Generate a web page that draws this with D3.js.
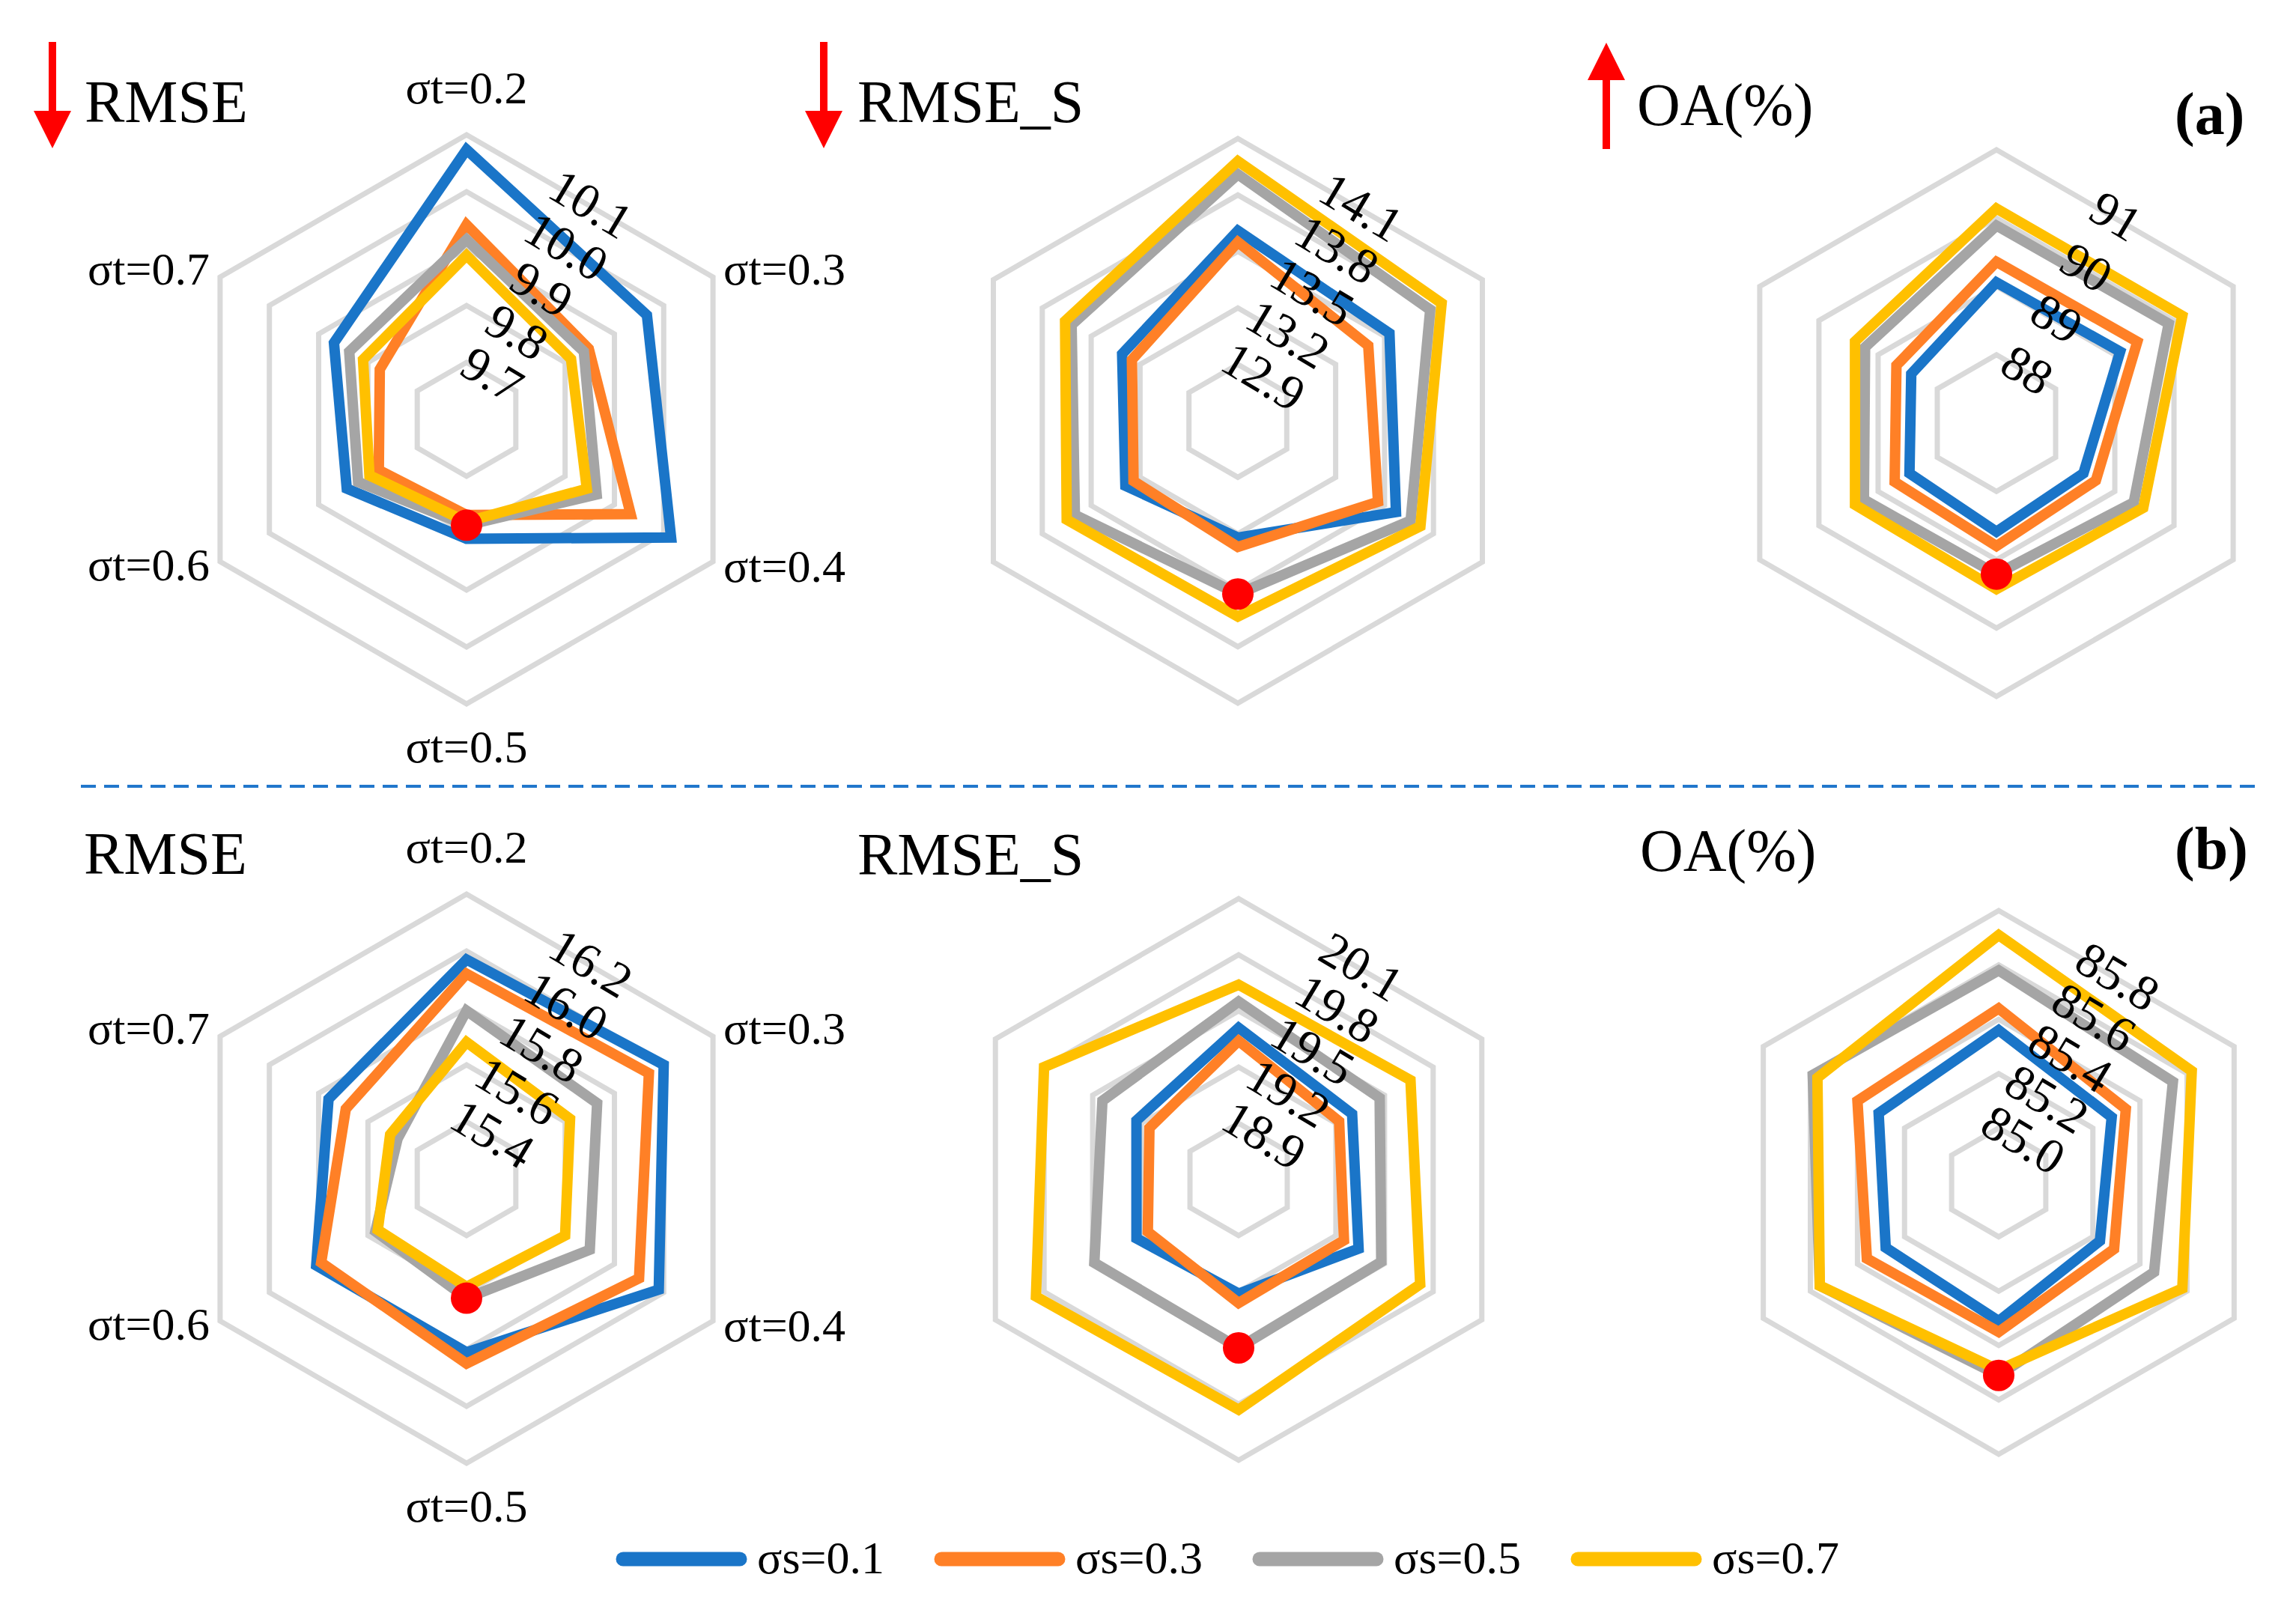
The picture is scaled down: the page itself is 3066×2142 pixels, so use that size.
<!DOCTYPE html>
<html>
<head>
<meta charset="utf-8">
<script src="https://cdn.jsdelivr.net/npm/d3@7"></script>
<style>
  body { margin: 0; background: #fff; }
  text { font-family: "Liberation Serif", "DejaVu Serif", serif; fill: #000; }
</style>
</head>
<body>
<div id="chart"></div>
<script>
// categories
const axisLabels = ['σt=0.2', 'σt=0.3', 'σt=0.4', 'σt=0.5', 'σt=0.6', 'σt=0.7'];
const seriesLabels = ['σs=0.1', 'σs=0.3', 'σs=0.5', 'σs=0.7'];
const seriesColors = ['#1a75c8', '#ff8026', '#a5a5a5', '#ffc000'];

// (a) rows: σs=0.1, 0.3, 0.5, 0.7 ; columns follow axisLabels
const rmseA = [
  [10.074, 9.966, 10.015, 9.810, 9.843, 9.869],
  [9.942, 9.848, 9.933, 9.768, 9.778, 9.776],
  [9.916, 9.838, 9.864, 9.786, 9.820, 9.838],
  [9.888, 9.812, 9.844, 9.780, 9.797, 9.810]
];
const rmseATicks = [9.7, 9.8, 9.9, 10.0, 10.1];

const rmseSA = [
  [13.61, 13.53, 13.57, 13.22, 13.29, 13.31],
  [13.55, 13.40, 13.46, 13.27, 13.24, 13.25],
  [13.91, 13.78, 13.66, 13.52, 13.60, 13.62],
  [13.98, 13.85, 13.72, 13.64, 13.65, 13.66]
];
const rmseSATicks = [12.9, 13.2, 13.5, 13.8, 14.1];

const oaA = [
  [89.06, 89.09, 88.47, 88.59, 88.47, 88.44],
  [89.36, 89.38, 88.68, 88.80, 88.72, 88.69],
  [89.89, 89.91, 89.32, 89.21, 89.24, 89.22],
  [90.14, 90.14, 89.48, 89.43, 89.39, 89.39]
];
const oaATicks = [88, 89, 90, 91];

// (b)
const rmseB = [
  [15.97, 16.00, 15.98, 15.81, 15.81, 15.76],
  [15.92, 15.94, 15.90, 15.85, 15.79, 15.69],
  [15.79, 15.73, 15.70, 15.62, 15.57, 15.48],
  [15.68, 15.62, 15.60, 15.58, 15.56, 15.51]
];
const rmseBTicks = [15.4, 15.6, 15.8, 16.0, 16.2];

const rmseSB = [
  [19.41, 19.30, 19.34, 19.21, 19.23, 19.23],
  [19.34, 19.22, 19.25, 19.26, 19.16, 19.15],
  [19.55, 19.47, 19.48, 19.50, 19.49, 19.44],
  [19.64, 19.66, 19.72, 19.83, 19.85, 19.80]
];
const rmseSBTicks = [18.9, 19.2, 19.5, 19.8, 20.1];

const oaB = [
  [85.36, 85.28, 85.23, 85.31, 85.28, 85.31],
  [85.44, 85.34, 85.29, 85.35, 85.36, 85.40],
  [85.58, 85.54, 85.46, 85.51, 85.56, 85.59],
  [85.71, 85.62, 85.58, 85.49, 85.56, 85.57]
];
const oaBTicks = [85.0, 85.2, 85.4, 85.6, 85.8];

// highlighted point (σs=0.5, σt=0.5)
const bestSeries = 2, bestAxis = 3;

const W = 3066, H = 2142;
const svg = d3.select('#chart').append('svg')
    .attr('width', W).attr('height', H)
    .attr('viewBox', `0 0 ${W} ${H}`);

const panels = [
  {data: rmseA,  ticks: rmseATicks,  fmt: '.1f', cx: 623,  cy: 560,  R: 380, title: 'RMSE',   tx: 113,  ty: 163, arrow: 'down', ax: 70,   labels: true},
  {data: rmseSA, ticks: rmseSATicks, fmt: '.1f', cx: 1653, cy: 562,  R: 377, title: 'RMSE_S', tx: 1145, ty: 163, arrow: 'down', ax: 1100, labels: false},
  {data: oaA,    ticks: oaATicks,    fmt: '.0f', cx: 2666, cy: 565,  R: 365, title: 'OA(%)',  tx: 2186, ty: 167, arrow: 'up',   ax: 2145, labels: false},
  {data: rmseB,  ticks: rmseBTicks,  fmt: '.1f', cx: 623,  cy: 1574, R: 380, title: 'RMSE',   tx: 112,  ty: 1167, arrow: null, labels: true},
  {data: rmseSB, ticks: rmseSBTicks, fmt: '.1f', cx: 1654, cy: 1575, R: 375, title: 'RMSE_S', tx: 1145, ty: 1168, arrow: null, labels: false},
  {data: oaB,    ticks: oaBTicks,    fmt: '.1f', cx: 2669, cy: 1579, R: 363, title: 'OA(%)',  tx: 2190, ty: 1163, arrow: null, labels: false}
];

// axis label offsets from centre (x, baseline y, anchor)
const labelPos = [
  [0, -422, 'middle'], [343, -180, 'start'], [343, 217, 'start'],
  [0, 458, 'middle'], [-343, 215, 'end'], [-343, -180, 'end']
];

const angle = i => i * Math.PI / 3;

panels.forEach(p => {
  const step = p.ticks[1] - p.ticks[0];
  const r = d3.scaleLinear()
      .domain([p.ticks[0] - step, p.ticks[p.ticks.length - 1]])
      .range([0, p.R]);

  const g = svg.append('g').attr('transform', `translate(${p.cx},${p.cy})`);

  const line = d3.lineRadial()
      .angle((d, i) => angle(i))
      .radius(d => r(d))
      .curve(d3.curveLinearClosed);

  // grid rings
  g.selectAll('.ring').data(p.ticks).enter().append('path')
      .attr('class', 'ring')
      .attr('d', t => line(axisLabels.map(() => t)))
      .attr('fill', 'none')
      .attr('stroke', '#d9d9d9')
      .attr('stroke-width', 7);

  // series
  g.selectAll('.series').data(p.data).enter().append('path')
      .attr('class', 'series')
      .attr('d', d => line(d))
      .attr('fill', 'none')
      .attr('stroke', (d, i) => seriesColors[i])
      .attr('stroke-width', 14)
      .attr('stroke-linejoin', 'miter');

  // value labels along the upper-right edge
  const f = d3.format(p.fmt);
  g.selectAll('.tick').data(p.ticks).enter().append('text')
      .attr('class', 'tick')
      .attr('transform', t => {
        const d = r(t) * Math.cos(Math.PI / 6) + 4;
        return `translate(${d * Math.sin(Math.PI / 6)},${-d * Math.cos(Math.PI / 6)}) rotate(31)`;
      })
      .attr('text-anchor', 'middle')
      .attr('dy', '0.35em')
      .style('font-family', '"Liberation Serif", serif')
      .style('font-size', '66px')
      .text(t => f(t));

  // highlighted point
  const v = p.data[bestSeries][bestAxis];
  g.append('circle')
      .attr('cx', r(v) * Math.sin(angle(bestAxis)))
      .attr('cy', -r(v) * Math.cos(angle(bestAxis)))
      .attr('r', 21)
      .attr('fill', '#ff0000');

  if (p.labels) {
    g.selectAll('.axlab').data(axisLabels).enter().append('text')
        .attr('class', 'axlab')
        .attr('x', (d, i) => labelPos[i][0])
        .attr('y', (d, i) => labelPos[i][1])
        .attr('text-anchor', (d, i) => labelPos[i][2])
        .style('font-size', '62px')
        .text(d => d);
  }

  svg.append('text')
      .attr('x', p.tx).attr('y', p.ty)
      .style('font-size', '80px')
      .text(p.title);

  if (p.arrow) {
    const a = svg.append('g').attr('fill', '#ff0000').attr('stroke', 'none');
    if (p.arrow === 'down') {
      a.append('rect').attr('x', p.ax - 5).attr('y', 56).attr('width', 10).attr('height', 96);
      a.append('path').attr('d', `M${p.ax - 25},148 L${p.ax + 25},148 L${p.ax},198 Z`);
    } else {
      a.append('rect').attr('x', p.ax - 5).attr('y', 104).attr('width', 10).attr('height', 95);
      a.append('path').attr('d', `M${p.ax - 25},107 L${p.ax + 25},107 L${p.ax},57 Z`);
    }
  }
});

// panel tags
svg.append('text').attr('x', 2904).attr('y', 179).style('font-size', '80px').style('font-weight', 'bold').text('(a)');
svg.append('text').attr('x', 2904).attr('y', 1160).style('font-size', '80px').style('font-weight', 'bold').text('(b)');

// separator
svg.append('line')
    .attr('x1', 108).attr('x2', 3020).attr('y1', 1050).attr('y2', 1050)
    .attr('stroke', '#2177cc').attr('stroke-width', 4)
    .attr('stroke-dasharray', '20 11');

// legend
const legend = svg.append('g').attr('transform', 'translate(822,2082)');
const item = legend.selectAll('.item').data(seriesLabels).enter().append('g')
    .attr('class', 'item')
    .attr('transform', (d, i) => `translate(${i * 425},0)`);
item.append('line')
    .attr('x1', 10).attr('x2', 166).attr('y1', 0).attr('y2', 0)
    .attr('stroke', (d, i) => seriesColors[i])
    .attr('stroke-width', 19)
    .attr('stroke-linecap', 'round');
item.append('text')
    .attr('x', 189).attr('y', 19)
    .style('font-size', '62px')
    .text(d => d);
</script>
</body>
</html>
